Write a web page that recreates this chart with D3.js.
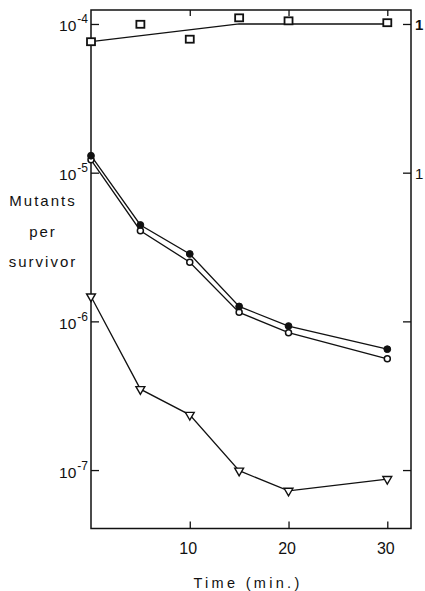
<!DOCTYPE html>
<html><head><meta charset="utf-8">
<script src="https://cdn.jsdelivr.net/npm/d3@7"></script>
<style>
body{margin:0;background:#fff;}
text{font-family:"Liberation Sans",Arial,sans-serif;fill:#111;}
</style></head>
<body><svg id="c" width="425" height="591"></svg>
<script>
// Data
const times = [0, 5, 10, 15, 20, 30];
const squares = [7.6e-5, 9.95e-5, 7.9e-5, 1.10e-4, 1.05e-4, 1.02e-4];
const squareFitT = [0, 15, 30];
const squareFitV = [7.6e-5, 1.0e-4, 1.0e-4];
const filledCircles = [1.30e-5, 4.45e-6, 2.84e-6, 1.26e-6, 9.3e-7, 6.5e-7];
const openCircles = [1.22e-5, 4.07e-6, 2.50e-6, 1.15e-6, 8.4e-7, 5.6e-7];
const triangles = [1.47e-6, 3.5e-7, 2.35e-7, 9.9e-8, 7.25e-8, 8.7e-8];
const xTicks = [10, 20, 30];
const yTicks = [1e-4, 1e-5, 1e-6, 1e-7];
const yTickExp = ["-4", "-5", "-6", "-7"];
const rightLabels = ["1", "1"];
const yLabelLines = ["Mutants", "per", "survivor"];
const xLabel = "Time (min.)";

const svg = d3.select("#c");
const L = 91, R = 411, T = 10, B = 528.5;
const x = d3.scaleLinear().domain([0, 32.4]).range([L, R]);
const y = d3.scaleLog().domain([Math.pow(10, -7.393), Math.pow(10, -3.906)]).range([B, T]);

const ink = "#111";
// Frame
svg.append("rect").attr("x", L).attr("y", T).attr("width", R - L).attr("height", B - T)
  .attr("fill", "none").attr("stroke", ink).attr("stroke-width", 1.5);

// Bottom axis ticks (inward)
const gb = svg.append("g").attr("transform", `translate(0,${B})`)
  .call(d3.axisBottom(x).tickValues(xTicks).tickSizeInner(-7).tickSizeOuter(0));
gb.select(".domain").remove();
gb.selectAll("line").attr("stroke", ink).attr("stroke-width", 1.3);
gb.selectAll("text").attr("font-size", 16).attr("dy", "0.35em").attr("y", 19.5).attr("dx", -2);

// Top ticks (inward)
const gt = svg.append("g").attr("transform", `translate(0,${T})`)
  .call(d3.axisTop(x).tickValues(xTicks).tickSizeInner(-6).tickSizeOuter(0).tickFormat(""));
gt.select(".domain").remove();
gt.selectAll("line").attr("stroke", ink).attr("stroke-width", 1.3);

// Left axis ticks (inward) with custom labels
const gl = svg.append("g").attr("transform", `translate(${L},0)`)
  .call(d3.axisLeft(y).tickValues(yTicks).tickSizeInner(-8).tickSizeOuter(0).tickFormat(""));
gl.select(".domain").remove();
gl.selectAll("line").attr("stroke", ink).attr("stroke-width", 1.3);
gl.selectAll(".tick").each(function(d, i) {
  const t = d3.select(this).append("text").attr("x", -3).attr("y", 7)
    .attr("text-anchor", "end").attr("font-size", 15.5);
  t.append("tspan").text("10");
  t.append("tspan").attr("dy", -8).attr("dx", 1).attr("font-size", 12).text(yTickExp[i]);
});

// Right axis ticks (inward)
const gr = svg.append("g").attr("transform", `translate(${R},0)`)
  .call(d3.axisRight(y).tickValues(yTicks).tickSizeInner(-8).tickSizeOuter(0).tickFormat(""));
gr.select(".domain").remove();
gr.selectAll("line").attr("stroke", ink).attr("stroke-width", 1.3);
gr.selectAll(".tick").filter((d, i) => i < rightLabels.length).append("text")
  .attr("x", 4).attr("y", 6).attr("text-anchor", "start").attr("font-size", 15)
  .attr("font-weight", (d, i) => i === 0 ? "bold" : "normal")
  .text((d, i) => rightLabels[i]);

// Axis labels
const yl = svg.append("text").attr("text-anchor", "middle").attr("font-size", 15)
  .attr("letter-spacing", "2px");
yLabelLines.forEach((s, i) => {
  yl.append("tspan").attr("x", 43).attr("y", 206 + i * 30.5).text(s);
});
svg.append("text").attr("x", 248).attr("y", 588).attr("text-anchor", "middle")
  .attr("font-size", 14.5).attr("letter-spacing", "3.3px").text(xLabel);

// Lines
const line = d3.line().x(d => x(d[0])).y(d => y(d[1]));
function drawLine(ts, vs) {
  svg.append("path").datum(ts.map((t, i) => [t, vs[i]])).attr("d", line)
    .attr("fill", "none").attr("stroke", ink).attr("stroke-width", 1.3);
}
drawLine(squareFitT, squareFitV);
drawLine(times, filledCircles);
drawLine(times, openCircles);
drawLine(times, triangles);

// Markers
svg.append("g").selectAll("rect").data(times.map((t, i) => [t, squares[i]])).join("rect")
  .attr("x", d => x(d[0]) - 4).attr("y", d => y(d[1]) - 3.5).attr("width", 8).attr("height", 7)
  .attr("fill", "#fff").attr("stroke", ink).attr("stroke-width", 1.8);
svg.append("g").selectAll("circle").data(times.map((t, i) => [t, openCircles[i]])).join("circle")
  .attr("cx", d => x(d[0])).attr("cy", d => y(d[1])).attr("r", 3)
  .attr("fill", "#fff").attr("stroke", ink).attr("stroke-width", 1.5);
svg.append("g").selectAll("circle").data(times.map((t, i) => [t, filledCircles[i]])).join("circle")
  .attr("cx", d => x(d[0])).attr("cy", d => y(d[1])).attr("r", 3.4)
  .attr("fill", ink).attr("stroke", ink).attr("stroke-width", 1);
const tri = d3.symbol().type(d3.symbolTriangle).size(34);
svg.append("g").selectAll("path").data(times.map((t, i) => [t, triangles[i]])).join("path")
  .attr("d", tri).attr("transform", d => `translate(${x(d[0])},${y(d[1])}) rotate(180)`)
  .attr("fill", "#fff").attr("stroke", ink).attr("stroke-width", 1.4);
</script></body></html>
